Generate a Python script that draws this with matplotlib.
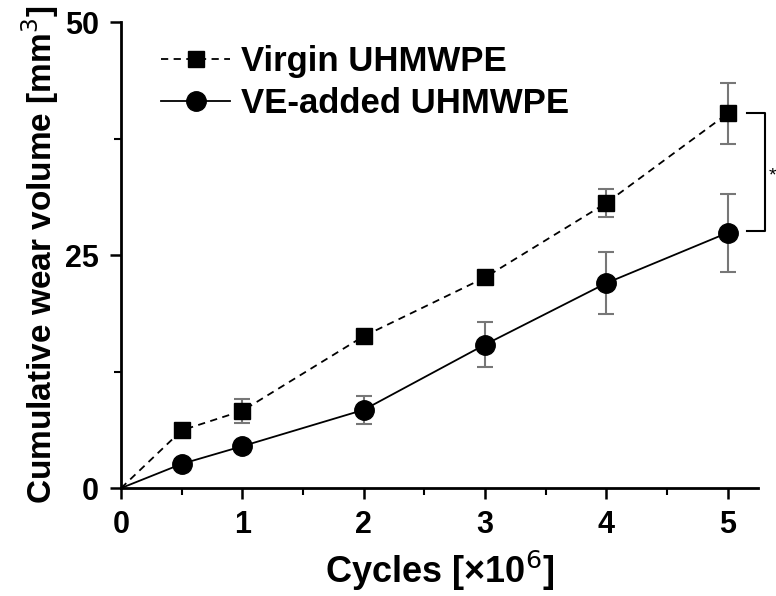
import matplotlib.pyplot as plt

plt.rcParams['font.family'] = ['Liberation Sans', 'DejaVu Sans']

# Daten
cycles = [0, 0.5, 1, 2, 3, 4, 5]
virgin = [0, 6.2, 8.3, 16.3, 22.6, 30.6, 40.2]
virgin_err = [0, 0.7, 1.3, 0.5, 0.5, 1.5, 3.3]
ve_added = [0, 2.6, 4.5, 8.4, 15.4, 22.0, 27.4]
ve_err = [0, 0.5, 0.4, 1.5, 2.4, 3.3, 4.2]

fig = plt.figure(figsize=(7.76, 5.96), dpi=100)
ax = fig.add_axes([0.156, 0.181, 0.821, 0.782])

# Fehlerbalken (ohne Punkt bei 0)
ax.errorbar(cycles[1:], virgin[1:], yerr=virgin_err[1:], fmt='none', ecolor='#777777',
            elinewidth=1.5, capsize=6, capthick=1.5)
ax.errorbar(cycles[1:], ve_added[1:], yerr=ve_err[1:], fmt='none', ecolor='#777777',
            elinewidth=1.5, capsize=6, capthick=1.5)

ax.plot(cycles, virgin, color='black', ls=(0, (4, 3)), lw=1.3, marker='s', ms=11,
        markevery=list(range(1, len(cycles))), label='Virgin UHMWPE')
ax.plot(cycles, ve_added, color='black', ls='-', lw=1.3, marker='o', ms=14,
        markevery=list(range(1, len(cycles))), label='VE-added UHMWPE')

ax.set_xlim(0, 5.25)
ax.set_ylim(0, 50)
ax.set_xticks([0, 1, 2, 3, 4, 5])
ax.set_xticks([0.5, 1.5, 2.5, 3.5, 4.5], minor=True)
ax.set_yticks([0, 25, 50])
ax.set_yticks([12.5, 37.5], minor=True)
for s in ['top', 'right']:
    ax.spines[s].set_visible(False)
for s in ['left', 'bottom']:
    ax.spines[s].set_linewidth(2)
ax.tick_params(which='major', length=8, width=1.8, labelsize=22, pad=8)
ax.tick_params(which='minor', length=5, width=1.5)
for lab in ax.get_xticklabels() + ax.get_yticklabels():
    lab.set_fontweight('bold')

ax.set_xlabel('Cycles [×10$^6$]', fontsize=26, fontweight='bold', labelpad=6)
ax.set_ylabel('Cumulative wear volume [mm$^3$]', fontsize=24, fontweight='bold', labelpad=3)

# Signifikanz-Klammer
ax.plot([5.16, 5.31, 5.31, 5.16], [40.2, 40.2, 27.6, 27.6], color='black', lw=1.5, clip_on=False)
ax.text(5.37, 33.5, '*', fontsize=14, ha='center', va='center', clip_on=False)

ax.legend(loc='upper left', bbox_to_anchor=(0.03, 0.995), frameon=False,
          prop={'size': 25, 'weight': 'bold'},
          handlelength=2.0, handletextpad=0.3, labelspacing=0.25, borderpad=0.1)

fig.savefig('out.png')
